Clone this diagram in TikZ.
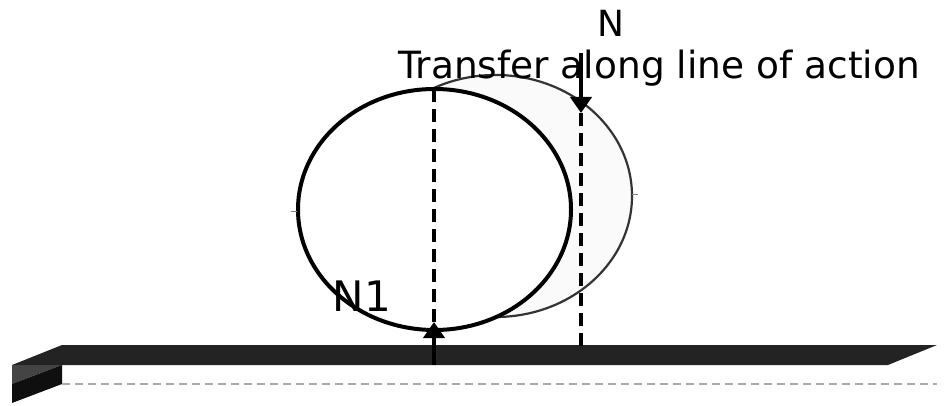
\documentclass[tikz,border=0pt]{standalone}
\usepackage{fontspec}
\setmainfont{DejaVu Sans}
\usepackage{tikz}
\usetikzlibrary{arrows.meta}
\usepackage{xcolor}
\definecolor{bardark}{HTML}{232323}
\definecolor{barside}{HTML}{444444}
\definecolor{barfront}{HTML}{0F0F0F}
\definecolor{ghostfill}{HTML}{FAFAFA}
\definecolor{ghostline}{HTML}{333333}
\definecolor{groundline}{HTML}{AAAAAA}

\tikzset{
    lineofaction/.style={line width=4.5pt, dash pattern=on 13pt off 7pt},
    force/.style={line width=4.5pt, -{Triangle[width=21pt,length=16pt]}},
    tick/.style={line width=1pt, gray},
    label/.style={font=\fontsize{37.5}{42}\selectfont, anchor=base}
}

\begin{document}
\begin{tikzpicture}[x=1pt, y=-1pt]
    \useasboundingbox (0,0) rectangle (947,406);

    % shifted (ghost) ellipse
    \draw[ghostline, fill=ghostfill, line width=2.2pt] (495.5,196) ellipse (136.5 and 121);
    \draw[tick] (632,195) -- (638,195);

    % original ellipse
    \draw[black, fill=white, line width=4pt] (434.5,209.5) ellipse (136.5 and 120.5);
    \draw[tick] (291,211) -- (297,211);

    % bar
    \fill[bardark] (12,365) -- (62,345) -- (937,345) -- (888,365) -- cycle;
    \fill[barside] (12,365) -- (62,365) -- (12,384) -- cycle;
    \fill[barfront] (12,384) -- (62,365) -- (62,384) -- (12,403) -- cycle;
    \draw[groundline, line width=2.5pt, dash pattern=on 8pt off 5pt] (62,384) -- (937,384);

    % lines of action
    \coordinate (oldtop) at (434,89);
    \coordinate (oldfoot) at (434,322);
    \coordinate (n1start) at (434,365);
    \coordinate (nstart) at (581,53);
    \coordinate (ntip) at (581,113);
    \coordinate (newfoot) at (581,350);
    \draw[lineofaction] (oldtop) -- (oldfoot);
    \draw[lineofaction] (ntip) -- (newfoot);

    % forces
    \draw[force] (n1start) -- (oldfoot);
    \draw[force] (nstart) -- (ntip);

    % labels
    \node[label, font=\fontsize{36}{40}\selectfont] (nlabel) at (611,37) {N};
    \node[label] (transfer) at (659,79) {Transfer along line of action};
    \node[label, font=\fontsize{42}{46}\selectfont] (n1label) at (362,311) {N1};
\end{tikzpicture}
\end{document}
